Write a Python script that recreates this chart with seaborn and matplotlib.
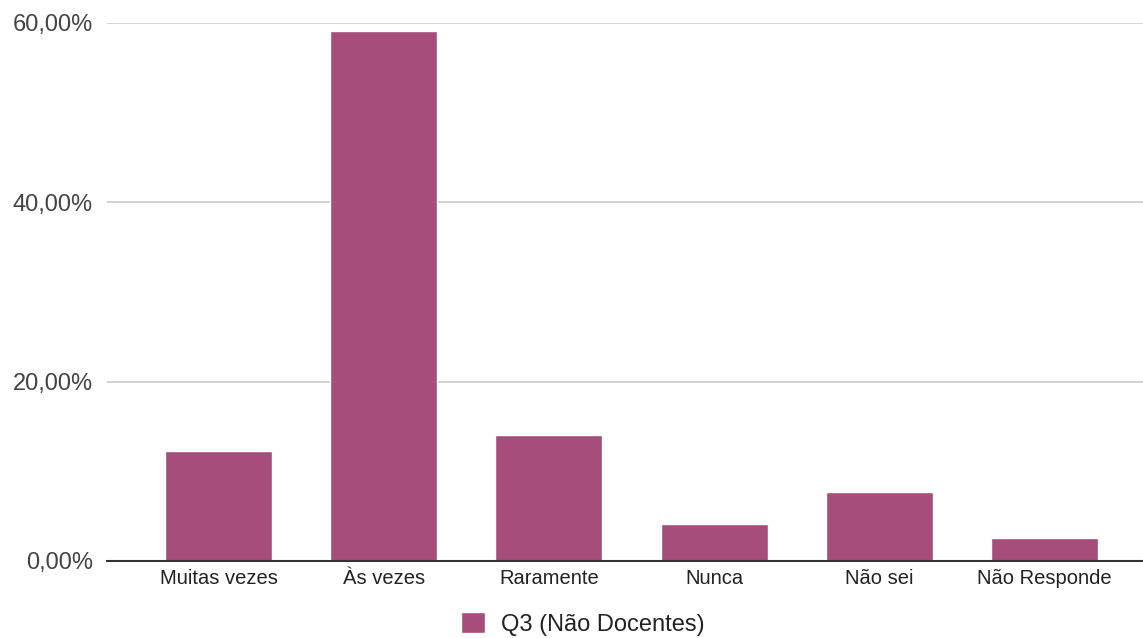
import matplotlib
matplotlib.use("Agg")
import matplotlib.pyplot as plt
import matplotlib.ticker as mticker
import pandas as pd
import seaborn as sns

categories = ["Muitas vezes", "Às vezes", "Raramente", "Nunca", "Não sei", "Não Responde"]
values = [12.3, 59.1, 14.1, 4.1, 7.7, 2.6]
series_name = "Q3 (Não Docentes)"
y_ticks = [0, 20, 40, 60]

bar_color = "#a64d79"

sns.set_style("white")
plt.rcParams["font.family"] = ["Liberation Sans", "DejaVu Sans"]

data = pd.DataFrame({"category": categories, "value": values})

fig = plt.figure(figsize=(11.43, 6.38), dpi=100)
ax = fig.add_axes([107 / 1143, 77 / 638, 1 - 107 / 1143, (561 - 23) / 638])

sns.barplot(
    data=data,
    x="category",
    y="value",
    color=bar_color,
    saturation=1,
    width=0.648,
    ax=ax,
    label=series_name,
    zorder=3,
)

ax.set_xlim(-0.675, 5.596)
ax.set_ylim(0, 60)
ax.set_yticks(y_ticks)
ax.yaxis.set_major_formatter(
    mticker.FuncFormatter(lambda v, _: f"{v:.2f}%".replace(".", ","))
)
ax.set_xlabel("")
ax.set_ylabel("")

for s in ["top", "right", "left"]:
    ax.spines[s].set_visible(False)
ax.spines["bottom"].set_color("#333333")
ax.spines["bottom"].set_linewidth(1.5)
ax.spines["bottom"].set_zorder(4)

ax.yaxis.grid(True, color="#cccccc", linewidth=1.2, zorder=0)
ax.set_axisbelow(True)

ax.tick_params(axis="y", length=0, pad=10, labelsize=17, labelcolor="#444444")
ax.tick_params(axis="x", length=0, pad=6, labelsize=14.5, labelcolor="#222222")
for lbl in ax.get_yticklabels():
    lbl.set_clip_on(False)

leg = ax.get_legend()
if leg is not None:
    leg.remove()
handles, labels = ax.get_legend_handles_labels()
fig.legend(
    handles[:1],
    labels[:1],
    loc="center",
    bbox_to_anchor=(583 / 1143, 1 - 624 / 638),
    frameon=False,
    fontsize=17,
    handlelength=1.0,
    handleheight=1.0,
    handletextpad=0.7,
    labelcolor="#222222",
)

fig.savefig("out.png", dpi=100)
